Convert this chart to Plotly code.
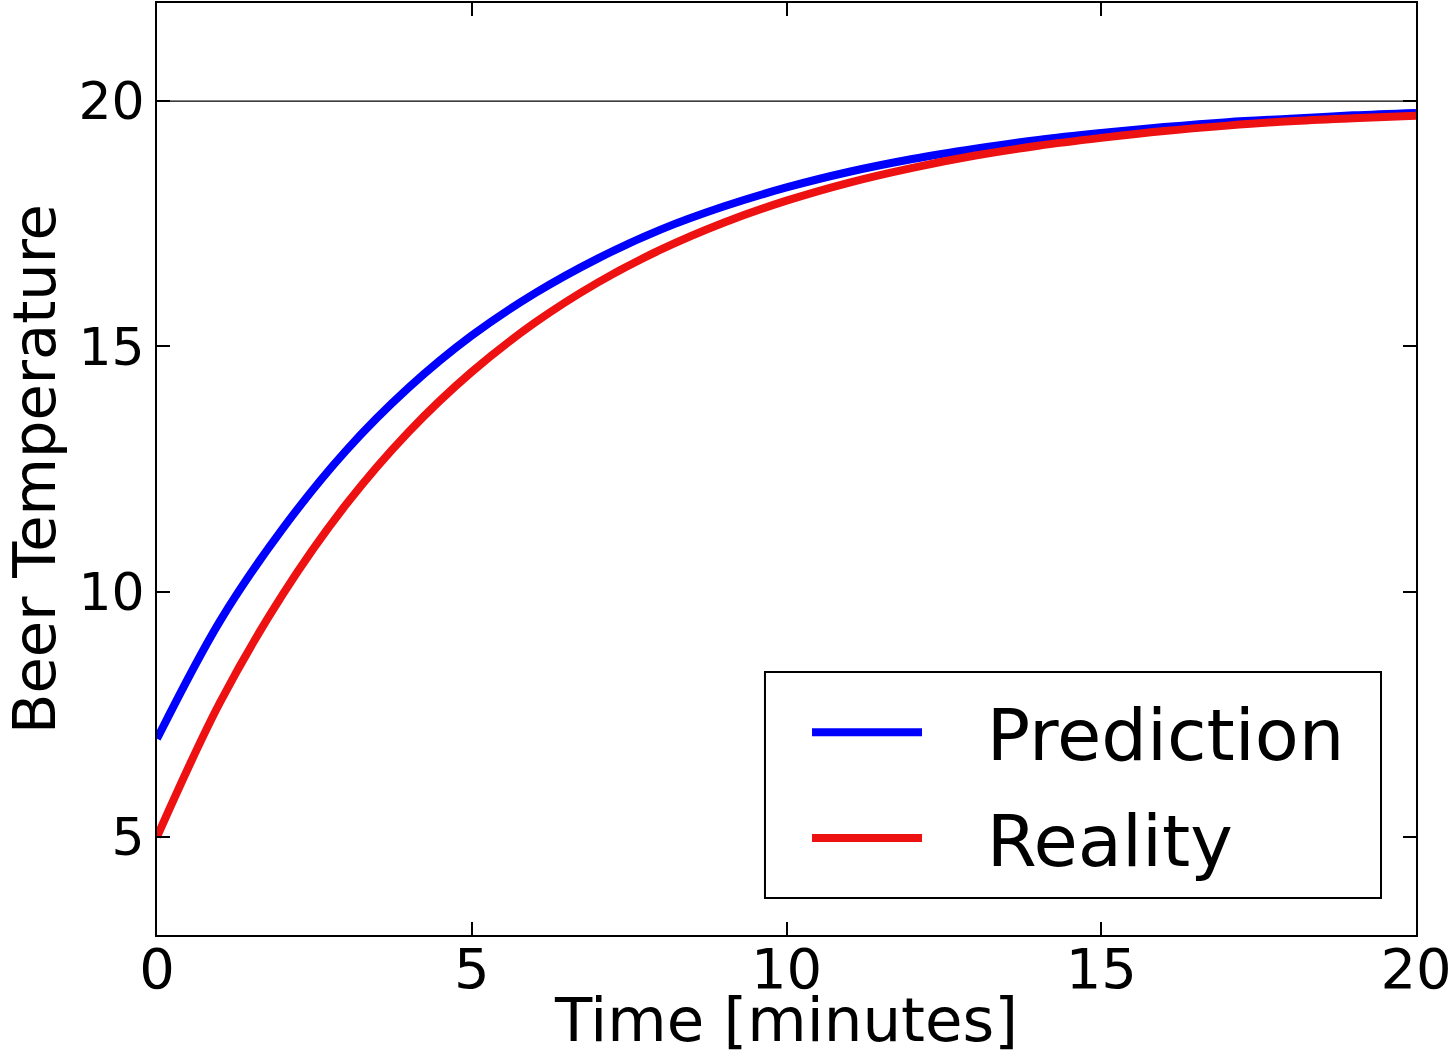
import plotly.graph_objects as go

# Data
time_min = [0, 1, 2, 3, 4, 5, 6, 7, 8, 9, 10, 11, 12, 13, 14, 15, 16, 17, 18, 19, 20]
prediction = [7.0, 9.4, 11.29, 12.87, 14.16, 15.22, 16.08, 16.79, 17.38, 17.85, 18.24,
              18.56, 18.82, 19.03, 19.21, 19.35, 19.47, 19.57, 19.64, 19.71, 19.76]
reality = [5.0, 7.74, 9.95, 11.77, 13.26, 14.48, 15.48, 16.30, 16.97, 17.52, 17.97,
           18.34, 18.64, 18.89, 19.09, 19.25, 19.39, 19.5, 19.59, 19.65, 19.7]
ambient_level = [20]
x_ticks = [0, 5, 10, 15, 20]
y_ticks = [5, 10, 15, 20]

FONT = "DejaVu Sans"
GAP = "\u2002\u2004"  # spacing between legend line and label

fig = go.Figure()
fig.add_trace(go.Scatter(x=time_min, y=prediction, mode="lines", name=GAP + "Prediction",
                         legendgroup="p",
                         line=dict(color="#0000ff", width=8, shape="spline")))
fig.add_trace(go.Scatter(x=time_min, y=reality, mode="lines", name=GAP + "Reality",
                         legendgroup="r",
                         line=dict(color="#ee1111", width=8, shape="spline")))

for lvl in ambient_level:
    fig.add_shape(type="line", xref="paper", x0=0, x1=1, yref="y", y0=lvl, y1=lvl,
                  line=dict(color="black", width=1.2), layer="below")

# legend frame
fig.add_shape(type="rect", xref="paper", yref="paper",
              x0=0.4829, x1=0.9722, y0=0.0397, y1=0.2822,
              line=dict(color="black", width=2), fillcolor="white", layer="below")

fig.update_layout(
    width=1454, height=1055,
    margin=dict(l=157, r=38, t=3, b=120),
    paper_bgcolor="white", plot_bgcolor="white",
    font=dict(family=FONT, color="black", size=48),
    showlegend=True,
    legend=dict(
        x=0.5163, y=0.2747, xanchor="left", yanchor="top",
        borderwidth=0, bgcolor="rgba(0,0,0,0)",
        font=dict(family=FONT, size=72, color="black"),
        itemwidth=110, traceorder="grouped", tracegroupgap=9,
    ),
)
fig.update_xaxes(
    range=[0, 20], tickvals=x_ticks, ticktext=[str(v) for v in x_ticks],
    showgrid=False, zeroline=False,
    showline=True, linecolor="black", linewidth=2, mirror="allticks",
    ticks="inside", ticklen=13, tickwidth=1.5, tickcolor="black",
    tickfont=dict(family=FONT, size=56), ticklabelstandoff=-16,
    title=dict(text="Time [minutes]", font=dict(family=FONT, size=61), standoff=17),
    automargin=False,
)
fig.update_yaxes(
    range=[3, 22], tickvals=y_ticks, ticktext=[str(v) for v in y_ticks],
    showgrid=False, zeroline=False,
    showline=True, linecolor="black", linewidth=2, mirror="allticks",
    ticks="inside", ticklen=13, tickwidth=1.5, tickcolor="black",
    tickfont=dict(family=FONT, size=52),
    title=dict(text="Beer Temperature", font=dict(family=FONT, size=59), standoff=39),
    automargin=False,
)

fig.write_html("out.html")
